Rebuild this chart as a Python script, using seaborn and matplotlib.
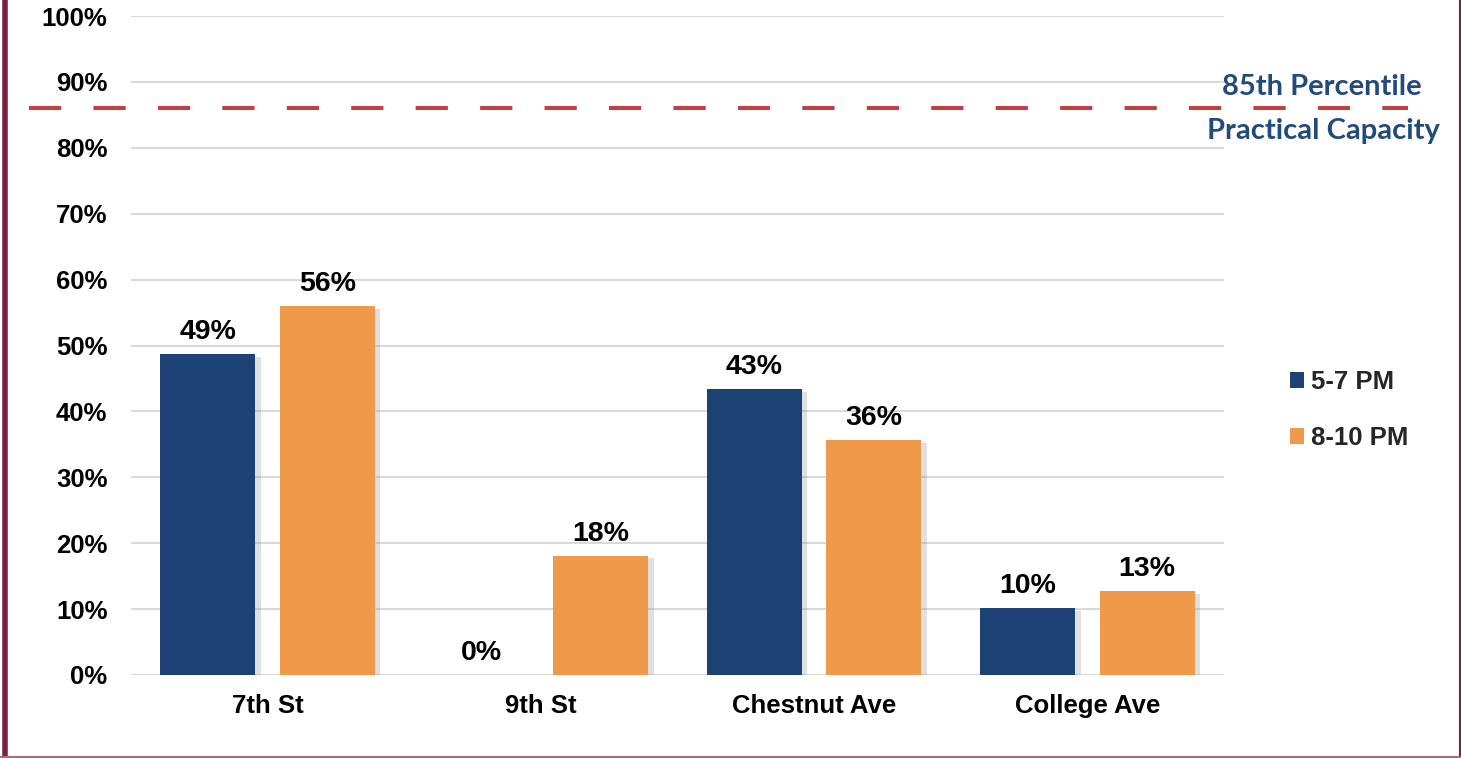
import matplotlib
matplotlib.use("Agg")
import matplotlib.pyplot as plt
import matplotlib.patheffects as pe
from matplotlib.patches import Patch
from matplotlib.lines import Line2D
import seaborn as sns
import pandas as pd

# ---- data ----
streets = ["7th St", "9th St", "Chestnut Ave", "College Ave"]
periods = ["5-7 PM", "8-10 PM"]
occ_5_7 = [48.7, 0.0, 43.4, 10.2]
occ_8_10 = [56.0, 18.1, 35.7, 12.7]
threshold = 86.0
threshold_lines = ["85th Percentile", "Practical Capacity"]
yticks = [0, 10, 20, 30, 40, 50, 60, 70, 80, 90, 100]

df = pd.DataFrame({
    "street": streets * 2,
    "period": [periods[0]] * 4 + [periods[1]] * 4,
    "occ": occ_5_7 + occ_8_10,
})

navy = "#1c4175"
orange = "#ef994b"
blue_txt = "#234a7d"

sns.set_theme(style="white")
plt.rcParams["font.family"] = ["Liberation Sans", "DejaVu Sans"]

fig = plt.figure(figsize=(14.61, 7.58), dpi=100)
ax = fig.add_axes([131 / 1461, 1 - 675 / 758, (1224 - 131) / 1461, (675 - 16) / 758])

sns.barplot(data=df, x="street", y="occ", hue="period", order=streets,
            hue_order=periods, palette=[navy, orange], width=0.875, gap=0.205,
            ax=ax, legend=False, saturation=1)

for p in ax.patches:
    p.set_path_effects([pe.SimplePatchShadow(offset=(4, -2), shadow_rgbFace="#999999", alpha=0.3),
                        pe.Normal()])
    p.set_edgecolor("none")
    p.set_zorder(3)

for cont in ax.containers:
    for bar in cont:
        h = bar.get_height()
        ax.annotate(f"{h:.0f}%", (bar.get_x() + bar.get_width() / 2, h),
                    xytext=(0, 15), textcoords="offset pixels",
                    ha="center", va="baseline", fontsize=20.5, fontweight="bold",
                    color="black", zorder=5)

ax.set_xlim(-0.5, 3.5)
ax.set_ylim(0, 100)
ax.set_yticks(yticks)
ax.set_yticklabels([f"{t}%" for t in yticks], fontsize=18.5, fontweight="bold", color="black")
ax.set_xticks(range(len(streets)))
ax.set_xticklabels(streets, fontsize=18.5, fontweight="bold", color="black")
ax.tick_params(axis="y", length=0, pad=17)
ax.tick_params(axis="x", length=0, pad=14)
ax.set_xlabel("")
ax.set_ylabel("")
ax.yaxis.grid(True, color="#d9d9d9", linewidth=1.5, zorder=0)
ax.set_axisbelow(True)
for s in ax.spines.values():
    s.set_visible(False)

# threshold dashed line
ax.axhline(threshold, xmin=(29 - 131) / 1093, xmax=(1408 - 131) / 1093,
           color="#c0413f", linewidth=2.9, linestyle=(0, (8, 8)),
           dash_capstyle="butt", clip_on=False, zorder=4)

fig.text(1322 / 1461, 1 - 87 / 758, threshold_lines[0], ha="center", va="center",
         fontsize=21, fontweight="bold", color=blue_txt, family=["Lato", "DejaVu Sans"])
fig.text(1323 / 1461, 1 - 131 / 758, threshold_lines[1], ha="center", va="center",
         fontsize=21, fontweight="bold", color=blue_txt, family=["Lato", "DejaVu Sans"])

# legend
handles = [Patch(facecolor=navy, edgecolor="none"), Patch(facecolor=orange, edgecolor="none")]
leg = fig.legend(handles, periods, loc="center left",
                 bbox_to_anchor=(1267 / 1461, 1 - 410 / 758), frameon=False,
                 prop={"size": 18.5, "weight": "bold"},
                 handlelength=0.55, handleheight=0.55, handletextpad=0.25,
                 labelspacing=1.25)

# frame borders
fig.add_artist(Line2D([4.5 / 1461, 4.5 / 1461], [0, 1], transform=fig.transFigure,
                      color="#7b2140", linewidth=4))
fig.add_artist(Line2D([1459.5 / 1461, 1459.5 / 1461], [0, 1], transform=fig.transFigure,
                      color="#7b2140", linewidth=1.5))
fig.add_artist(Line2D([0, 1], [1.5 / 758, 1.5 / 758], transform=fig.transFigure,
                      color="#a86a7e", linewidth=1.5))

fig.savefig("out.png", dpi=100, facecolor="white")
